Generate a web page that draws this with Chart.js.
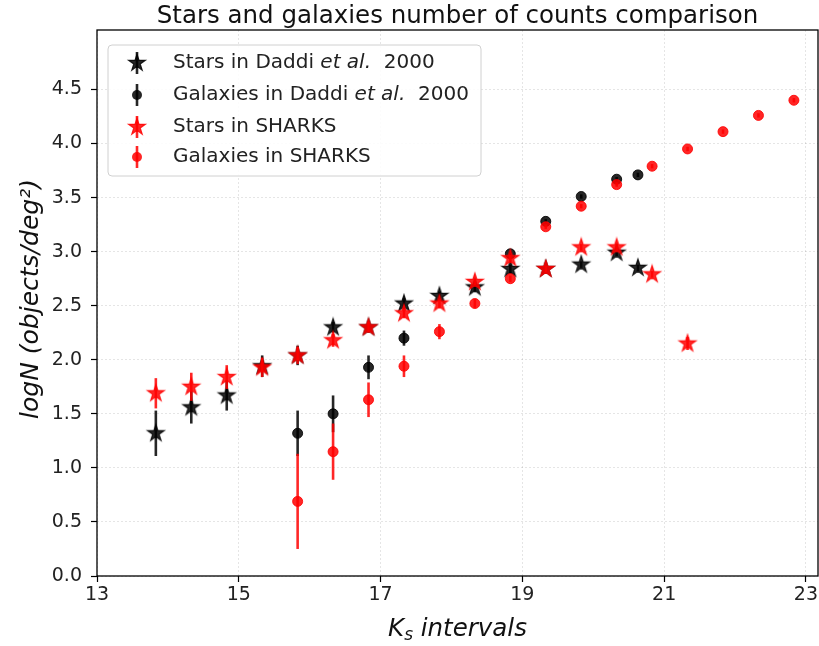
<!DOCTYPE html>
<html>
<head>
<meta charset="utf-8">
<script src="https://cdn.jsdelivr.net/npm/chart.js@4"></script>
<style>
  html, body { margin: 0; padding: 0; background: #fff; }
</style>
</head>
<body>
<canvas id="countsChart" width="819" height="646"></canvas>
<script>
// K_s bin centres
const daddiK = [13.83, 14.33, 14.83, 15.33, 15.83, 16.33, 16.83, 17.33, 17.83, 18.33, 18.83, 19.33, 19.83, 20.33, 20.63];
const sharksK = [13.83, 14.33, 14.83, 15.33, 15.83, 16.33, 16.83, 17.33, 17.83, 18.33, 18.83, 19.33, 19.83, 20.33, 20.83, 21.33, 21.83, 22.33, 22.83];

// Daddi et al. 2000
const daddiStars = [1.32, 1.56, 1.67, 1.94, 2.04, 2.30, 2.30, 2.52, 2.59, 2.67, 2.84, 2.84, 2.88, 2.99, 2.85];
const daddiStarsErr = [0.21, 0.15, 0.14, 0.10, 0.09, 0.05, 0.05, 0.05, 0.04, 0.04, 0.04, 0.03, 0.03, 0.03, 0.03];
const daddiGal = [null, null, null, null, 1.32, 1.50, 1.93, 2.20, null, null, 2.98, 3.28, 3.51, 3.67, 3.71];
const daddiGalErr = [0, 0, 0, 0, 0.21, 0.17, 0.11, 0.07, 0, 0, 0.02, 0.02, 0.02, 0.02, 0.02];

// SHARKS
const sharksStars = [1.69, 1.75, 1.84, 1.93, 2.04, 2.18, 2.30, 2.43, 2.52, 2.72, 2.94, 2.84, 3.04, 3.04, 2.79, 2.15, null, null, null];
const sharksStarsErr = [0.14, 0.13, 0.11, 0.09, 0.08, 0.06, 0.05, 0.04, 0.04, 0.03, 0.03, 0.03, 0.03, 0.03, 0.03, 0.06, 0, 0, 0];
const sharksGal = [null, null, null, null, 0.69, 1.15, 1.63, 1.94, 2.26, 2.52, 2.75, 3.23, 3.42, 3.62, 3.79, 3.95, 4.11, 4.26, 4.40];
const sharksGalErr = [0, 0, 0, 0, 0.44, 0.26, 0.16, 0.10, 0.07, 0.04, 0.03, 0.02, 0.02, 0.02, 0.02, 0.02, 0.02, 0.02, 0.02];

const xTicks = [13, 15, 17, 19, 21, 23];
const yTicks = [0, 0.5, 1, 1.5, 2, 2.5, 3, 3.5, 4, 4.5];

const BLACK = "rgba(0,0,0,0.85)";
const RED = "rgba(255,0,0,0.85)";
const FONT = "'DejaVu Sans', sans-serif";

function makeStar(color, r) {
  const c = document.createElement("canvas");
  const s = Math.ceil(r * 2 + 4);
  c.width = s;
  c.height = s;
  const g = c.getContext("2d");
  g.translate(s / 2, s / 2);
  g.beginPath();
  for (let i = 0; i < 10; i++) {
    const rad = i % 2 === 0 ? r : r * 0.382;
    const a = -Math.PI / 2 + (i * Math.PI) / 5;
    g.lineTo(rad * Math.cos(a), rad * Math.sin(a));
  }
  g.closePath();
  g.fillStyle = color;
  g.fill();
  g.lineWidth = 1.2;
  g.strokeStyle = color;
  g.stroke();
  return c;
}
const blackStar = makeStar(BLACK, 8.8);
const redStar = makeStar(RED, 8.8);

function toPoints(xs, ys, errs) {
  const pts = [];
  xs.forEach((x, i) => {
    if (ys[i] != null) pts.push({ x: x, y: ys[i], err: errs[i] });
  });
  return pts;
}

// error bars drawn under each dataset's markers
const errorBars = {
  id: "errorBars",
  beforeDatasetDraw(chart, args) {
    const ds = chart.data.datasets[args.index];
    const xs = chart.scales.x, ys = chart.scales.y;
    const ctx = chart.ctx;
    const area = chart.chartArea;
    ctx.save();
    ctx.beginPath();
    ctx.rect(area.left, area.top, area.right - area.left, area.bottom - area.top);
    ctx.clip();
    ctx.strokeStyle = ds.barColor;
    ctx.lineWidth = 2.6;
    ds.data.forEach((p) => {
      if (!p.err) return;
      const px = xs.getPixelForValue(p.x);
      ctx.beginPath();
      ctx.moveTo(px, ys.getPixelForValue(p.y - p.err));
      ctx.lineTo(px, ys.getPixelForValue(p.y + p.err));
      ctx.stroke();
    });
    ctx.restore();
  },
};

// frame, titles and legend box
const decorations = {
  id: "decorations",
  afterDraw(chart) {
    const ctx = chart.ctx;
    const a = chart.chartArea;
    ctx.save();
    ctx.strokeStyle = "#000";
    ctx.lineWidth = 1.3;
    ctx.strokeRect(a.left, a.top, a.right - a.left, a.bottom - a.top);

    ctx.fillStyle = "#111";
    ctx.textBaseline = "alphabetic";
    ctx.textAlign = "center";
    ctx.font = "24.5px " + FONT;
    ctx.fillText("Stars and galaxies number of counts comparison", (a.left + a.right) / 2, 23);

    // x label: K_s intervals
    ctx.font = "italic 24.5px " + FONT;
    const k = "K", sub = "s", rest = " intervals";
    const wK = ctx.measureText(k).width;
    const wR = ctx.measureText(rest).width;
    ctx.font = "italic 17px " + FONT;
    const wS = ctx.measureText(sub).width;
    let x0 = (a.left + a.right) / 2 - (wK + wS + wR) / 2;
    const base = 636;
    ctx.textAlign = "left";
    ctx.font = "italic 24.5px " + FONT;
    ctx.fillText(k, x0, base);
    ctx.font = "italic 17px " + FONT;
    ctx.fillText(sub, x0 + wK, base + 4);
    ctx.font = "italic 24.5px " + FONT;
    ctx.fillText(rest, x0 + wK + wS, base);

    // y label
    ctx.save();
    ctx.translate(38, (a.top + a.bottom) / 2 - 4);
    ctx.rotate(-Math.PI / 2);
    ctx.textAlign = "center";
    ctx.font = "italic 25px " + FONT;
    ctx.fillText("logN (objects/deg\u00B2)", 0, 0);
    ctx.restore();

    // legend
    const lx = 108, ly = 45, lw = 373, lh = 131;
    ctx.beginPath();
    ctx.roundRect(lx, ly, lw, lh, 4);
    ctx.fillStyle = "rgba(255,255,255,0.85)";
    ctx.fill();
    ctx.strokeStyle = "#d0d0d0";
    ctx.lineWidth = 1;
    ctx.stroke();

    const rows = [63, 95, 127, 157];
    const mx = 137;
    chart.data.datasets.forEach((ds, i) => {
      const y = rows[i];
      ctx.strokeStyle = ds.barColor;
      ctx.lineWidth = 2.6;
      ctx.beginPath();
      ctx.moveTo(mx, y - 11);
      ctx.lineTo(mx, y + 11);
      ctx.stroke();
      if (ds.pointStyle === "circle") {
        ctx.beginPath();
        ctx.arc(mx, y, 5, 0, Math.PI * 2);
        ctx.fillStyle = ds.backgroundColor;
        ctx.fill();
      } else {
        const img = ds.pointStyle;
        ctx.drawImage(img, mx - img.width / 2, y - img.height / 2);
      }
      ctx.fillStyle = "#222";
      ctx.textAlign = "left";
      ctx.textBaseline = "middle";
      let tx = 173;
      ds.labelParts.forEach((part) => {
        ctx.font = (part.italic ? "italic " : "") + "20px " + FONT;
        ctx.fillText(part.t, tx, y);
        tx += ctx.measureText(part.t).width;
      });
    });
    ctx.restore();
  },
};

const ctx = document.getElementById("countsChart").getContext("2d");
const countsChart = new Chart(ctx, {
  type: "scatter",
  data: {
    datasets: [
      {
        label: "Stars in Daddi et al. 2000",
        labelParts: [{ t: "Stars in Daddi " }, { t: "et al.", italic: true }, { t: "  2000" }],
        data: toPoints(daddiK, daddiStars, daddiStarsErr),
        pointStyle: blackStar,
        barColor: BLACK,
        order: 4,
      },
      {
        label: "Galaxies in Daddi et al. 2000",
        labelParts: [{ t: "Galaxies in Daddi " }, { t: "et al.", italic: true }, { t: "  2000" }],
        data: toPoints(daddiK, daddiGal, daddiGalErr),
        pointStyle: "circle",
        pointRadius: 5,
        backgroundColor: BLACK,
        borderColor: BLACK,
        borderWidth: 1,
        barColor: BLACK,
        order: 3,
      },
      {
        label: "Stars in SHARKS",
        labelParts: [{ t: "Stars in SHARKS" }],
        data: toPoints(sharksK, sharksStars, sharksStarsErr),
        pointStyle: redStar,
        barColor: RED,
        order: 2,
      },
      {
        label: "Galaxies in SHARKS",
        labelParts: [{ t: "Galaxies in SHARKS" }],
        data: toPoints(sharksK, sharksGal, sharksGalErr),
        pointStyle: "circle",
        pointRadius: 5,
        backgroundColor: RED,
        borderColor: RED,
        borderWidth: 1,
        barColor: RED,
        order: 1,
      },
    ],
  },
  options: {
    responsive: false,
    animation: false,
    layout: { autoPadding: false, padding: { top: 30, right: 1, left: 0, bottom: 0 } },
    plugins: {
      legend: { display: false },
      tooltip: { enabled: false },
      title: { display: false },
    },
    scales: {
      x: {
        type: "linear",
        min: 13,
        max: 23.17,
        afterBuildTicks: (scale) => {
          scale.ticks = xTicks.map((v) => ({ value: v }));
        },
        afterFit: (scale) => {
          scale.height = 70;
          scale.paddingRight = 0;
          scale.paddingLeft = 0;
        },
        grid: {
          color: "rgba(0,0,0,0.1)",
          tickColor: "#000",
          tickLength: 6,
          tickWidth: 1.2,
        },
        border: { display: false, dash: [2, 2] },
        ticks: {
          color: "#222",
          font: { family: FONT, size: 19 },
          padding: 2,
          maxRotation: 0,
          callback: (v) => String(v),
        },
      },
      y: {
        type: "linear",
        min: 0,
        max: 5.05,
        afterBuildTicks: (scale) => {
          scale.ticks = yTicks.map((v) => ({ value: v }));
        },
        afterFit: (scale) => {
          scale.width = 97;
          scale.paddingTop = 0;
          scale.paddingBottom = 0;
        },
        grid: {
          color: "rgba(0,0,0,0.1)",
          tickColor: "#000",
          tickLength: 6,
          tickWidth: 1.2,
        },
        border: { display: false, dash: [2, 2] },
        ticks: {
          color: "#222",
          font: { family: FONT, size: 19 },
          padding: 9,
          callback: (v) => v.toFixed(1),
        },
      },
    },
  },
  plugins: [errorBars, decorations],
});
</script>
</body>
</html>
